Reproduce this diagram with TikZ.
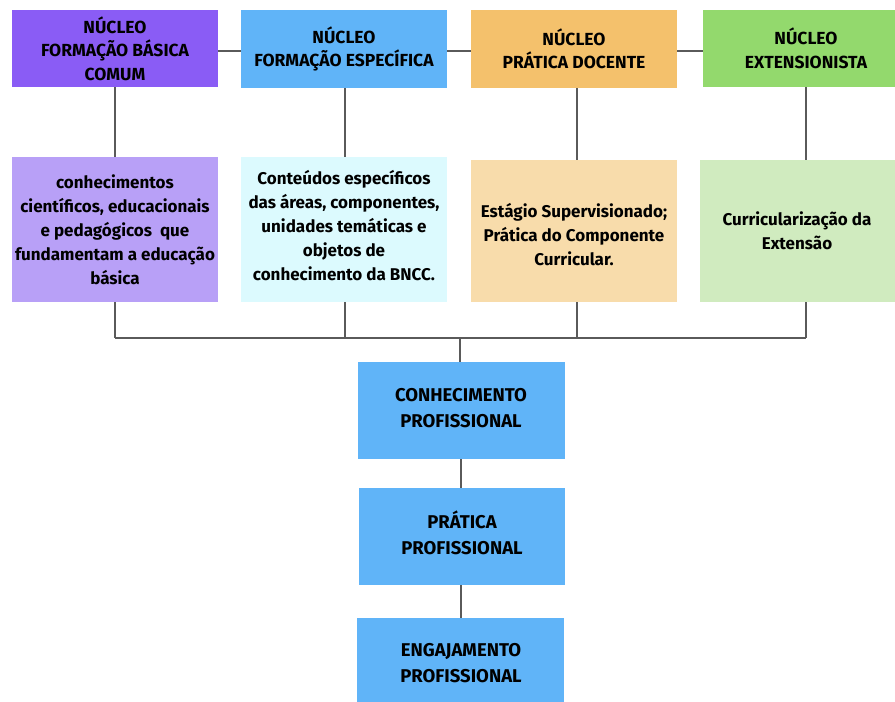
\documentclass[tikz,border=0pt]{standalone}
\usepackage{fontspec}
\setmainfont{Fira Sans}
\definecolor{cPurple}{HTML}{8A5CF5}
\definecolor{cBlue}{HTML}{60B4F8}
\definecolor{cOrange}{HTML}{F4C16C}
\definecolor{cGreen}{HTML}{93D96D}
\definecolor{cLPurple}{HTML}{B8A0F7}
\definecolor{cLCyan}{HTML}{DCFAFE}
\definecolor{cLOrange}{HTML}{F8DCAB}
\definecolor{cLGreen}{HTML}{D0EBBF}
\definecolor{cLine}{HTML}{5A5A5A}
\tikzset{
  box/.style={inner sep=0pt, align=center, font=\bfseries\fontsize{17.5}{23.5}\selectfont, text=black},
  bodybox/.style={box, font=\bfseries\fontsize{17}{24}\selectfont},
  lowbox/.style={box, font=\bfseries\fontsize{18.5}{26}\selectfont},
  conn/.style={draw=cLine, line width=1.4pt},
}
\begin{document}
\begin{tikzpicture}[x=1pt,y=-1pt]
\useasboundingbox (0,0) rectangle (895,702);
% top row
\fill[cPurple] (12,10) rectangle (218,87);
\node[box] (t1) at (115,48.5) {NÚCLEO\\FORMAÇÃO BÁSICA\\COMUM};
\fill[cBlue] (241,10) rectangle (447,88);
\node[box] (t2) at (344,49) {NÚCLEO\\FORMAÇÃO ESPECÍFICA};
\fill[cOrange] (471,10) rectangle (677,88);
\node[box] (t3) at (574,49) {NÚCLEO\\PRÁTICA DOCENTE};
\fill[cGreen] (703,10) rectangle (895,87);
\node[box] (t4) at (806,48.5) {NÚCLEO\\EXTENSIONISTA};
% second row
\fill[cLPurple] (12,157) rectangle (218,302);
\node[bodybox] (m1) at (115,229.5) {conhecimentos\\científicos, educacionais\\e pedagógicos\ \ que\\fundamentam a educação\\básica};
\fill[cLCyan] (241,157) rectangle (447,302);
\node[bodybox] (m2) at (344,226) {Conteúdos específicos\\das áreas, componentes,\\unidades temáticas e\\objetos de\\conhecimento da BNCC.};
\fill[cLOrange] (471,160) rectangle (677,302);
\node[bodybox] (m3) at (574,235) {Estágio Supervisionado;\\Prática do Componente\\Curricular.};
\fill[cLGreen] (700,160) rectangle (895,302);
\node[bodybox] (m4) at (797,231) {Curricularização da\\Extensão};
% bottom column
\fill[cBlue] (358,362) rectangle (565,459);
\node[lowbox] (b1) at (461,408) {CONHECIMENTO\\PROFISSIONAL};
\fill[cBlue] (359,488) rectangle (565,585);
\node[lowbox] (b2) at (462,533) {PRÁTICA\\PROFISSIONAL};
\fill[cBlue] (357,618) rectangle (564,702);
\node[lowbox] (b3) at (461,663) {ENGAJAMENTO\\PROFISSIONAL};
% anchor coordinates
\coordinate (t1s) at (115,87); \coordinate (m1n) at (115,157); \coordinate (m1s) at (115,302);
\coordinate (t2s) at (345,88); \coordinate (m2n) at (345,157); \coordinate (m2s) at (345,302);
\coordinate (t3s) at (577,88); \coordinate (m3n) at (577,160); \coordinate (m3s) at (577,302);
\coordinate (t4s) at (806,87); \coordinate (m4n) at (806,160); \coordinate (m4s) at (806,302);
\coordinate (t1e) at (218,51); \coordinate (t2w) at (241,51);
\coordinate (t2e) at (447,51); \coordinate (t3w) at (471,51);
\coordinate (t3e) at (677,51); \coordinate (t4w) at (703,51);
\coordinate (busL) at (115,338); \coordinate (busR) at (806,338); \coordinate (busM) at (460,338);
\coordinate (b1n) at (460,362); \coordinate (b1s) at (461,459); \coordinate (b2n) at (461,488);
\coordinate (b2s) at (461,585); \coordinate (b3n) at (461,618);
% connectors
\draw[conn] (t1e) -- (t2w);
\draw[conn] (t2e) -- (t3w);
\draw[conn] (t3e) -- (t4w);
\draw[conn] (t1s) -- (m1n);
\draw[conn] (t2s) -- (m2n);
\draw[conn] (t3s) -- (m3n);
\draw[conn] (t4s) -- (m4n);
\draw[conn] (m1s) -- (busL);
\draw[conn] (m2s) -- (m2s |- busL);
\draw[conn] (m3s) -- (m3s |- busL);
\draw[conn] (m4s) -- (busR);
\draw[conn] (busL) -- (busR);
\draw[conn] (busM) -- (b1n);
\draw[conn] (b1s) -- (b2n);
\draw[conn] (b2s) -- (b3n);
\end{tikzpicture}
\end{document}
